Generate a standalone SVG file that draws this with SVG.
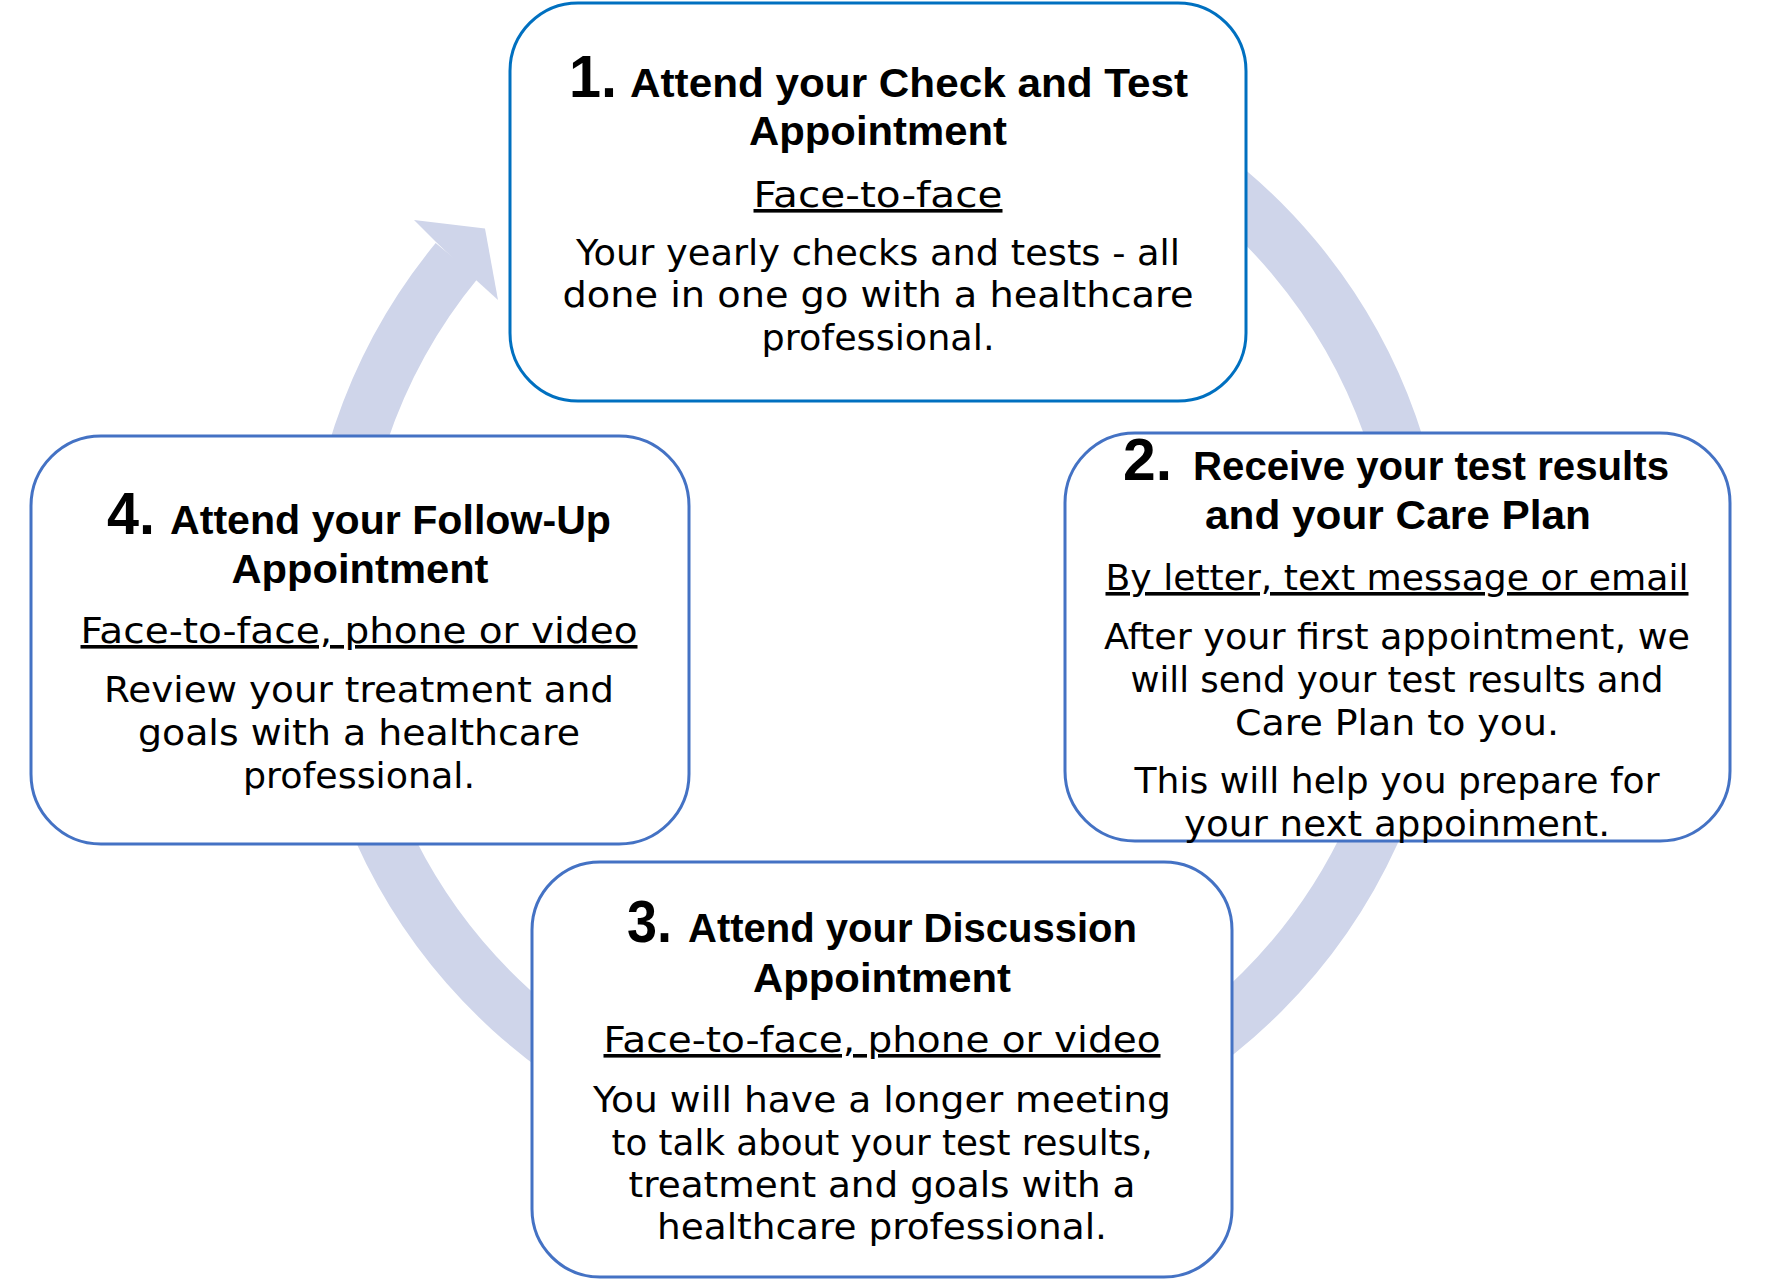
<svg xmlns="http://www.w3.org/2000/svg" width="1774" height="1280" viewBox="0 0 1774 1280">
<style>
.box{fill:#ffffff;stroke:#4472C4;stroke-width:3}
.box1{fill:#ffffff;stroke:#0070C0;stroke-width:3}
.num{font-family:"Liberation Sans",Arial,sans-serif;font-weight:bold;font-size:60px;fill:#000}
.ttl{font-family:"Liberation Sans",Arial,sans-serif;font-weight:bold;font-size:41px;fill:#000}
.body{font-family:"DejaVu Sans","Noto Sans",sans-serif;font-size:36px;fill:#000;text-anchor:middle}
.mid{text-anchor:middle}
.ul{text-decoration:underline}
.arc{fill:none;stroke:#CFD5EA;stroke-width:55}
.head{fill:#CFD5EA}
</style>
<rect x="0" y="0" width="1774" height="1280" fill="#ffffff"/>
<g id="connectors">
  <path class="arc" d="M 564.7 161 A 544.5 544.5 0 0 1 1262 992 A 544.5 544.5 0 0 1 456.9 260.6"/>
  <polygon class="head" points="435,241 414,220 485,228.5 498,300 476,280"/>
</g>
<g id="node1">
  <rect class="box1" x="510" y="3" width="736" height="398" rx="68" ry="68"/>
  <text class="num" x="569" y="97" textLength="48" lengthAdjust="spacingAndGlyphs">1.</text>
  <text class="ttl" x="630" y="97" textLength="558" lengthAdjust="spacingAndGlyphs">Attend your Check and Test</text>
  <text class="ttl mid" x="878" y="145" textLength="258" lengthAdjust="spacingAndGlyphs">Appointment</text>
  <text class="body ul" x="878" y="207" textLength="249" lengthAdjust="spacingAndGlyphs">Face-to-face</text>
  <text class="body" x="878" y="265" textLength="604" lengthAdjust="spacingAndGlyphs">Your yearly checks and tests - all</text>
  <text class="body" x="878" y="307" textLength="631" lengthAdjust="spacingAndGlyphs">done in one go with a healthcare</text>
  <text class="body" x="878" y="350" textLength="233" lengthAdjust="spacingAndGlyphs">professional.</text>
</g>
<g id="node2">
  <rect class="box" x="1065" y="433" width="665" height="408" rx="70" ry="70"/>
  <text class="num" x="1123" y="480" textLength="49" lengthAdjust="spacingAndGlyphs">2.</text>
  <text class="ttl" x="1193" y="480" textLength="476" lengthAdjust="spacingAndGlyphs">Receive your test results</text>
  <text class="ttl mid" x="1398" y="529" textLength="386" lengthAdjust="spacingAndGlyphs">and your Care Plan</text>
  <text class="body ul" x="1397" y="590" textLength="583" lengthAdjust="spacingAndGlyphs">By letter, text message or email</text>
  <text class="body" x="1397" y="649" textLength="586" lengthAdjust="spacingAndGlyphs">After your first appointment, we</text>
  <text class="body" x="1397" y="692" textLength="533" lengthAdjust="spacingAndGlyphs">will send your test results and</text>
  <text class="body" x="1397" y="735" textLength="324" lengthAdjust="spacingAndGlyphs">Care Plan to you.</text>
  <text class="body" x="1397" y="793" textLength="525" lengthAdjust="spacingAndGlyphs">This will help you prepare for</text>
  <text class="body" x="1397" y="836" textLength="426" lengthAdjust="spacingAndGlyphs">your next appoinment.</text>
</g>
<g id="node3">
  <rect class="box" x="532" y="862" width="700" height="415" rx="68" ry="68"/>
  <text class="num" x="627" y="942" textLength="45" lengthAdjust="spacingAndGlyphs">3.</text>
  <text class="ttl" x="688" y="942" textLength="449" lengthAdjust="spacingAndGlyphs">Attend your Discussion</text>
  <text class="ttl mid" x="882" y="992" textLength="258" lengthAdjust="spacingAndGlyphs">Appointment</text>
  <text class="body ul" x="882" y="1052" textLength="557" lengthAdjust="spacingAndGlyphs">Face-to-face, phone or video</text>
  <text class="body" x="882" y="1112" textLength="578" lengthAdjust="spacingAndGlyphs">You will have a longer meeting</text>
  <text class="body" x="882" y="1155" textLength="541" lengthAdjust="spacingAndGlyphs">to talk about your test results,</text>
  <text class="body" x="882" y="1197" textLength="507" lengthAdjust="spacingAndGlyphs">treatment and goals with a</text>
  <text class="body" x="882" y="1239" textLength="450" lengthAdjust="spacingAndGlyphs">healthcare professional.</text>
</g>
<g id="node4">
  <rect class="box" x="31" y="436" width="658" height="408" rx="70" ry="70"/>
  <text class="num" x="107" y="534" textLength="48" lengthAdjust="spacingAndGlyphs">4.</text>
  <text class="ttl" x="170" y="534" textLength="441" lengthAdjust="spacingAndGlyphs">Attend your Follow-Up</text>
  <text class="ttl mid" x="360" y="583" textLength="257" lengthAdjust="spacingAndGlyphs">Appointment</text>
  <text class="body ul" x="359" y="643" textLength="557" lengthAdjust="spacingAndGlyphs">Face-to-face, phone or video</text>
  <text class="body" x="359" y="702" textLength="510" lengthAdjust="spacingAndGlyphs">Review your treatment and</text>
  <text class="body" x="359" y="745" textLength="442" lengthAdjust="spacingAndGlyphs">goals with a healthcare</text>
  <text class="body" x="359" y="788" textLength="232" lengthAdjust="spacingAndGlyphs">professional.</text>
</g>
</svg>
